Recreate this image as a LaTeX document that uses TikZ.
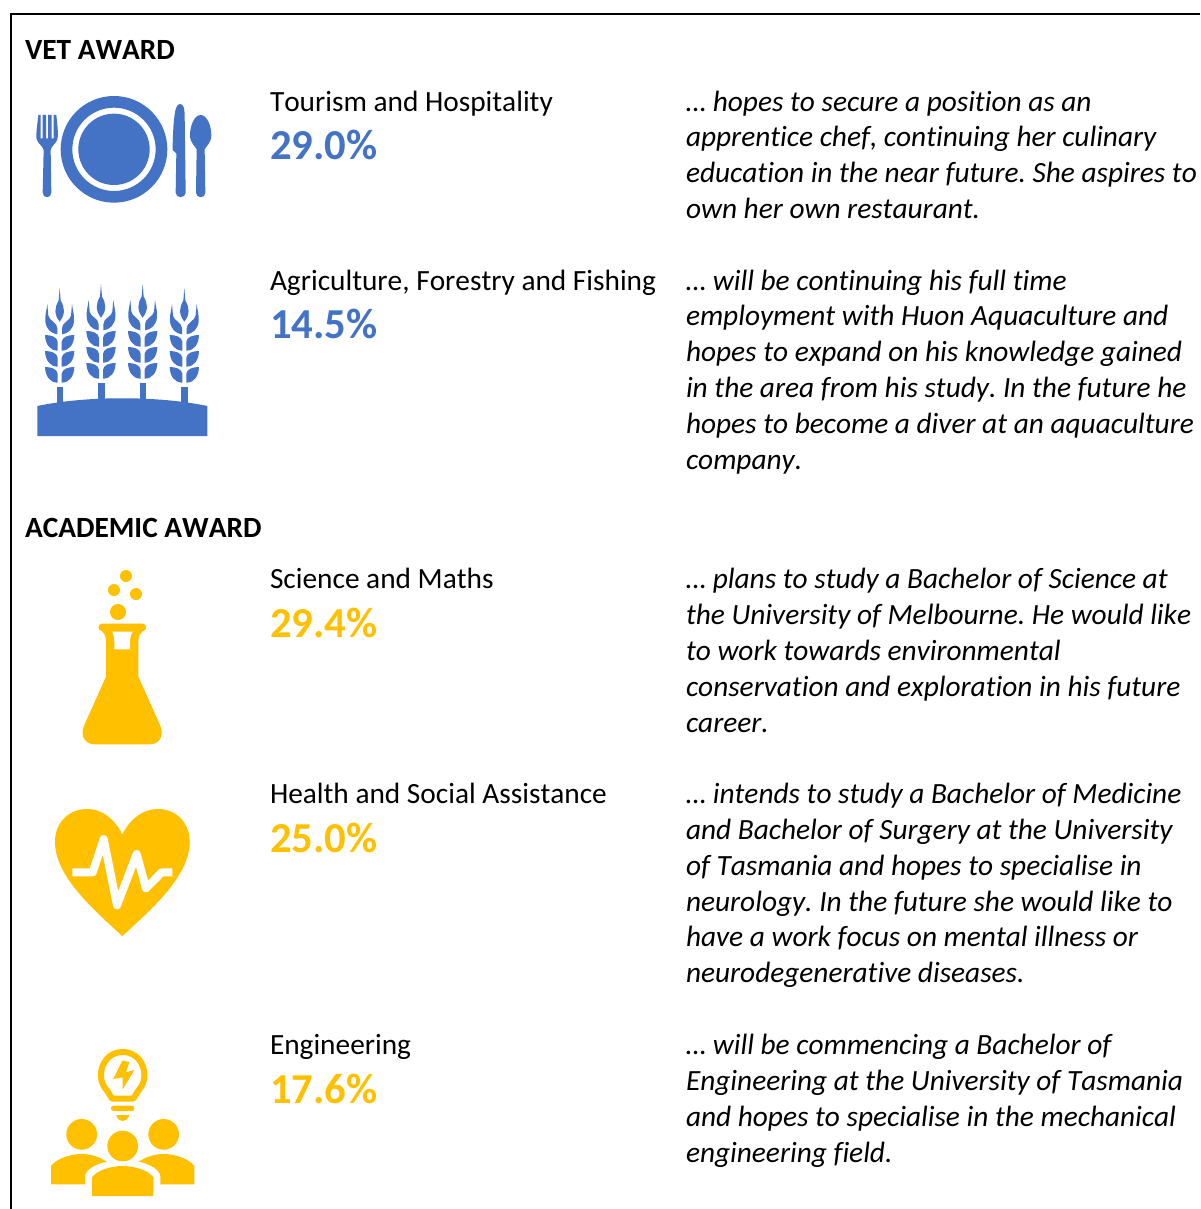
\documentclass[tikz,border=0pt]{standalone}
\usepackage{fontspec}
\setmainfont[Ligatures=NoCommon,Kerning=Off]{Carlito}
\frenchspacing
\definecolor{iconblue}{HTML}{4472C4}
\definecolor{icongold}{HTML}{FFC000}
\tikzset{
  x=1pt,y=-1pt,
  body/.style={anchor=base west,inner sep=0pt,outer sep=0pt,yshift=-0.4pt,font=\fontsize{29.33}{34}\selectfont,text=black},
  quote/.style={body,font=\fontsize{29.33}{34}\selectfont\itshape},
  heading/.style={body,font=\fontsize{29.33}{34}\selectfont\bfseries},
  pct/.style={anchor=base west,inner sep=0pt,outer sep=0pt,yshift=-0.4pt,font=\fontsize{42.67}{48}\selectfont\bfseries},
  frameline/.style={draw=black,line width=2pt},
  zoomed/.style={x=0.33333pt,y=-0.33333pt},
  ear/.pic={
    \fill (0,27) -- (3,65) .. controls (15,85) and (18,105) .. (0,128) .. controls (-18,105) and (-15,85) .. (-3,65) -- cycle;
    \foreach \s in {1,-1}{
      \fill (\s*37,75) .. controls (\s*39,95) and (\s*44,105) .. (\s*43,125) .. controls (\s*42,150) and (\s*25,164) .. (\s*7,166) -- (\s*7,148) .. controls (\s*7,130) and (\s*32,125) .. (\s*34,110) -- cycle;
      \foreach \d in {0,48,96}{
        \fill (\s*44,168+\d) .. controls (\s*43,195+\d) and (\s*30,215+\d) .. (\s*6,215+\d) -- (\s*6,188+\d) .. controls (\s*8,174+\d) and (\s*25,168+\d) .. (\s*44,168+\d) -- cycle;
      }
    }
  }
}
\begin{document}
\begin{tikzpicture}
\useasboundingbox (0,0) rectangle (1200,1209);
\fill[white] (0,0) rectangle (1200,1209);
\draw[frameline] (11,1209) -- (11,14) -- (1200,14);

% headings
\node[heading] (vet) at (25,59) {VET AWARD};
\node[heading] (academic) at (25,537) {ACADEMIC AWARD};

% sector labels and percentages
\node[body] (s1) at (270,111) {Tourism and Hospitality};
\node[pct,text=iconblue] (p1) at (270,159) {29.0\%};
\node[body] (s2) at (270,290) {Agriculture, Forestry and Fishing};
\node[pct,text=iconblue] (p2) at (270,338) {14.5\%};
\node[body] (s3) at (270,588) {Science and Maths};
\node[pct,text=icongold] (p3) at (270,637) {29.4\%};
\node[body] (s4) at (270,803) {Health and Social Assistance};
\node[pct,text=icongold] (p4) at (270,852) {25.0\%};
\node[body] (s5) at (270,1054) {Engineering};
\node[pct,text=icongold] (p5) at (270,1103) {17.6\%};

% quotes
\node[quote] (q1a) at (686,111) {… hopes to secure a position as an};
\node[quote] (q1b) at (686,146) {apprentice chef, continuing her culinary};
\node[quote] (q1c) at (686,182) {education in the near future. She aspires to};
\node[quote] (q1d) at (686,218) {own her own restaurant.};

\node[quote] (q2a) at (686,290) {… will be continuing his full time};
\node[quote] (q2b) at (686,325) {employment with Huon Aquaculture and};
\node[quote] (q2c) at (686,361) {hopes to expand on his knowledge gained};
\node[quote] (q2d) at (686,397) {in the area from his study. In the future he};
\node[quote] (q2e) at (686,433) {hopes to become a diver at an aquaculture};
\node[quote] (q2f) at (686,469) {company.};

\node[quote] (q3a) at (686,588) {… plans to study a Bachelor of Science at};
\node[quote] (q3b) at (686,624) {the University of Melbourne. He would like};
\node[quote] (q3c) at (686,660) {to work towards environmental};
\node[quote] (q3d) at (686,696) {conservation and exploration in his future};
\node[quote] (q3e) at (686,732) {career.};

\node[quote] (q4a) at (686,803) {… intends to study a Bachelor of Medicine};
\node[quote] (q4b) at (686,839) {and Bachelor of Surgery at the University};
\node[quote] (q4c) at (686,875) {of Tasmania and hopes to specialise in};
\node[quote] (q4d) at (686,911) {neurology. In the future she would like to};
\node[quote] (q4e) at (686,946) {have a work focus on mental illness or};
\node[quote] (q4f) at (686,982) {neurodegenerative diseases.};

\node[quote] (q5a) at (686,1054) {… will be commencing a Bachelor of};
\node[quote] (q5b) at (686,1090) {Engineering at the University of Tasmania};
\node[quote] (q5c) at (686,1126) {and hopes to specialise in the mechanical};
\node[quote] (q5d) at (686,1162) {engineering field.};

% plate, fork, knife, spoon
\begin{scope}[shift={(20,80)},zoomed,fill=iconblue]
  \fill[even odd rule] (282,208) circle[radius=160*0.33333pt] (282,208) circle[radius=125*0.33333pt];
  \fill (282,208) circle[radius=107*0.33333pt];
  % fork
  \fill (55,105) -- (62,105) -- (62,175) -- (68,175) -- (68,105) -- (78,105) -- (78,175) -- (84,175) -- (84,105) -- (95,105) -- (95,175) -- (101,175) -- (101,105) -- (109,105)
    .. controls (112,135) and (116,165) .. (112,178) .. controls (108,192) and (94,197) .. (92,210)
    -- (94,338) .. controls (94,356) and (68,356) .. (68,338) -- (71,210)
    .. controls (68,197) and (54,192) .. (50,178) .. controls (47,165) and (52,135) .. (55,105) -- cycle;
  % knife
  \fill (480,72) .. controls (490,72) and (494,85) .. (494,105) -- (497,338) .. controls (497,356) and (467,356) .. (467,338) -- (469,220) -- (458,210) .. controls (458,160) and (462,100) .. (468,85) .. controls (471,76) and (475,72) .. (480,72) -- cycle;
  % spoon
  \fill (542,105) .. controls (562,105) and (574,140) .. (574,165) .. controls (574,190) and (558,198) .. (554,208) -- (556,338) .. controls (556,356) and (528,356) .. (528,338) -- (530,208) .. controls (526,198) and (510,190) .. (510,165) .. controls (510,140) and (522,105) .. (542,105) -- cycle;
\end{scope}

% wheat field
\begin{scope}[shift={(20,275)},zoomed,fill=iconblue]
  \fill (52,393) .. controls (200,362) and (414,362) .. (562,393) -- (562,483) -- (52,483) -- cycle;
  \fill (110,336) rectangle (129,390);
  \fill (235,324) rectangle (254,380);
  \fill (360,324) rectangle (379,380);
  \fill (484,336) rectangle (503,390);
  \pic[fill=iconblue] at (119,12) {ear};
  \pic[fill=iconblue] at (243,0) {ear};
  \pic[fill=iconblue] at (368,0) {ear};
  \pic[fill=iconblue] at (493,12) {ear};
\end{scope}

% flask
\begin{scope}[shift={(60,560)},zoomed]
  \fill[icongold] (198,48) circle[radius=18*0.33333pt];
  \fill[icongold] (162,90) circle[radius=18*0.33333pt];
  \fill[icongold] (228,102) circle[radius=18*0.33333pt];
  \fill[icongold] (174,156) circle[radius=24*0.33333pt];
  \fill[icongold] (126,191) -- (248,191) .. controls (262,191) and (262,213) .. (248,213)
    .. controls (240,220) and (235,228) .. (235,245) -- (235,350) -- (300,495)
    .. controls (315,530) and (295,553) .. (270,553) -- (103,553)
    .. controls (78,553) and (58,530) .. (73,495) -- (138,350) -- (138,245)
    .. controls (138,228) and (133,220) .. (126,213) .. controls (112,213) and (112,191) .. (126,191) -- cycle;
  \fill[white] (157,215) -- (218,215) .. controls (212,225) and (210,235) .. (210,245) -- (210,268) -- (163,268) -- (163,245) .. controls (163,235) and (161,225) .. (157,215) -- cycle;
\end{scope}

% heart with pulse
\begin{scope}[shift={(40,800)},zoomed]
  \fill[icongold] (247,408) .. controls (150,320) and (45,225) .. (45,125) .. controls (45,65) and (90,27) .. (140,27) .. controls (190,27) and (225,60) .. (247,103)
    .. controls (269,60) and (305,27) .. (355,27) .. controls (405,27) and (449,65) .. (449,125) .. controls (449,225) and (344,320) .. (247,408) -- cycle;
  \draw[white,line width=8pt,line join=round] (97,217) -- (158,217) -- (191,117) -- (231,316) -- (290,162) -- (318,265) -- (365,217) -- (397,217);
\end{scope}

% bulb and people
\begin{scope}[shift={(40,1040)},zoomed]
  \draw[icongold,line width=6pt,line join=round] (216,176) -- (200,150) .. controls (165,115) and (185,36) .. (248,36) .. controls (311,36) and (331,115) .. (296,150) -- (280,176) -- cycle;
  \fill[icongold] (247,62) -- (220,117) -- (248,112) -- (248,148) -- (283,90) -- (258,97) -- (268,66) -- cycle;
  \fill[icongold] (221,197) -- (275,197) .. controls (286,197) and (286,213) .. (275,213) -- (221,213) .. controls (210,213) and (210,197) .. (221,197) -- cycle;
  \fill[icongold] (229,225) -- (268,225) .. controls (264,238) and (256,243) .. (248,243) .. controls (240,243) and (232,238) .. (229,225) -- cycle;
  \fill[icongold] (125,283) circle[radius=46*0.33333pt];
  \fill[icongold] (371,283) circle[radius=46*0.33333pt];
  \fill[icongold] (248,318) circle[radius=46*0.33333pt];
  \fill[icongold] (156,468) -- (156,412) .. controls (170,392) and (210,378) .. (248,378) .. controls (286,378) and (326,392) .. (340,412) -- (340,468) -- cycle;
  \fill[icongold] (33,433) -- (33,378) .. controls (50,356) and (90,342) .. (125,342) .. controls (155,342) and (180,352) .. (200,365) .. controls (165,372) and (135,390) .. (135,410) -- (135,433) -- cycle;
  \fill[icongold] (463,433) -- (463,378) .. controls (446,356) and (406,342) .. (371,342) .. controls (341,342) and (316,352) .. (296,365) .. controls (331,372) and (361,390) .. (361,410) -- (361,433) -- cycle;
\end{scope}
\end{tikzpicture}
\end{document}
